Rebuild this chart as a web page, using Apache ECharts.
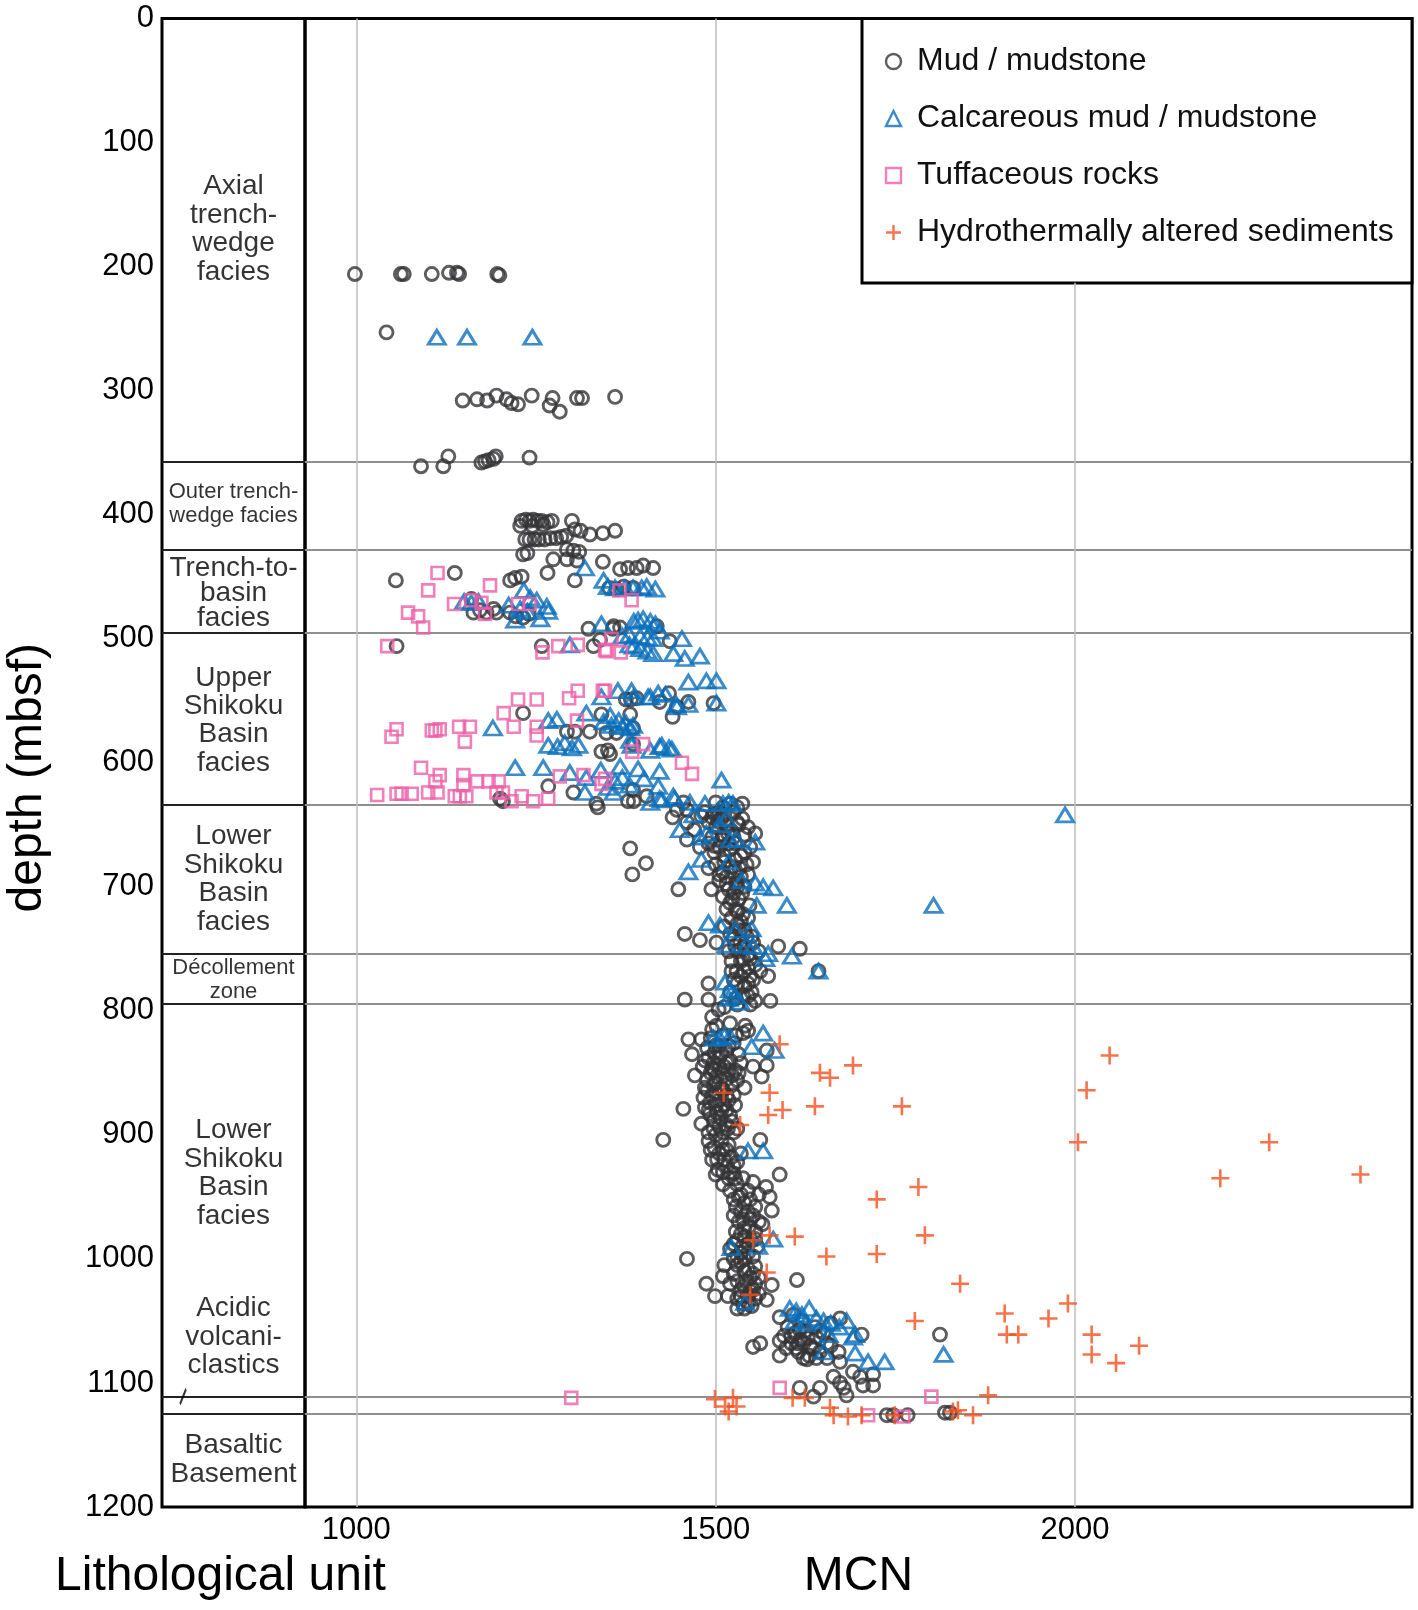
<!DOCTYPE html>
<html><head><meta charset="utf-8">
<script src="https://cdn.jsdelivr.net/npm/echarts@6/dist/echarts.min.js"></script>
<style>html,body{margin:0;padding:0;background:#fff}#c{width:1418px;height:1610px}</style>
</head><body><div id="c"></div>
<script>
// ---------- data ----------
const depthTicks = [0,100,200,300,400,500,600,700,800,900,1000,1100,1200];
const mcnTicks = [1000,1500,2000];
const unitBoundaries = [357,428.5,495,634,754,794,1111,1125];
const unitLabels = ['Axial\ntrench-\nwedge\nfacies','Outer trench-\nwedge facies','Trench-to-\nbasin\nfacies','Upper\nShikoku\nBasin\nfacies','Lower\nShikoku\nBasin\nfacies','Décollement\nzone','Lower\nShikoku\nBasin\nfacies','Acidic\nvolcani-\nclastics','Basaltic\nBasement'];
const unitLabelDepths = [170,391,463,566,694,775,931,1063,1162];
const unitLabelSmall = [false,true,false,false,false,true,false,false,false];
const seriesNames = ['Mud / mudstone','Calcareous mud / mudstone','Tuffaceous rocks','Hydrothermally altered sediments'];

const mud = [
[998,206],[1062,206],[1066,206],[1105,206],[1129,205],[1140,205],[1143,206],[1196,206],[1199,207],
[1042,253],
[1148,308],[1168,307],[1182,308],[1195,304],[1209,307],[1216,310],[1225,311],[1244,304],[1269,312],[1273,306],[1283,317],[1307,306],[1314,306],[1360,305],
[1090,361],[1121,361],[1128,353],[1174,358],[1179,357],[1184,356],[1191,355],[1194,353],[1241,354],
[1230,405],[1236,404],[1241,405],[1246,404],[1252,405],[1258,405],[1266,406],[1272,405],[1300,405],[1228,409],[1245,409],[1260,408],[1304,412],[1312,413],[1325,416],[1343,415],[1360,413],
[1235,420],[1241,420],[1248,420],[1254,420],[1262,420],[1270,419],[1278,419],[1285,418],[1292,417],[1293,428],[1302,429],[1310,430],[1232,432],[1238,431],[1274,436],[1293,436],[1307,437],[1343,438],
[1055,453],[1137,447],[1214,453],[1221,451],[1230,450],[1266,447],[1304,453],[1367,444],[1378,443],[1390,443],[1399,441],[1413,443],[1352,459],[1362,460],[1372,458],[1385,459],
[1160,468],[1163,479],[1172,477],[1181,479],[1191,476],[1195,479],[1214,479],[1222,482],[1232,483],[1240,480],
[1323,492],[1357,492],[1367,491],[1418,490],[1358,490],[1056,506],[1258,506],[1330,506],[1339,501],[1436,502],
[1375,549],[1382,549],[1390,548],[1422,551],[1435,544],[1462,551],[1497,552],[1446,555],[1232,560],[1341,561],[1381,561],[1440,563],
[1293,575],[1304,575],[1325,575],[1348,576],[1362,576],[1385,572],[1353,593],[1341,591],[1350,590],[1385,585],
[1267,619],[1302,624],[1334,633],[1200,629],[1385,622],[1404,627],[1378,631],[1386,631],[1446,638],[1460,638],[1336,636],[1204,631],
[1500,632],[1510,636],[1520,633],[1530,636],[1537,633],[1498,641],[1455,632],
[1440,644],[1460,648],[1470,654],[1480,643],[1490,648],[1500,652],[1508,645],[1515,650],[1522,655],[1530,648],[1537,645],[1545,652],[1555,657],[1495,660],[1510,658],[1525,660],
[1485,640],[1495,644],[1505,640],[1512,642],[1525,640],[1532,650],[1540,658],[1518,665],[1508,662],[1498,667],
[1460,662],[1478,668],[1490,665],[1498,672],[1505,668],[1512,675],[1520,670],[1527,678],[1533,685],[1540,672],[1548,668],[1552,680],[1500,682],[1510,688],[1490,685],[1381,669],[1403,681],[1384,690],
[1525,688],[1535,692],[1515,692],[1545,690],[1528,697],[1518,702],
[1448,702],[1494,702],[1505,695],[1515,698],[1525,705],[1532,710],[1540,700],[1547,715],[1520,713],[1530,720],[1538,722],[1545,725],[1528,718],
[1510,708],[1522,725],[1535,728],[1512,732],[1525,742],[1540,748],[1552,745],[1538,758],[1522,760],
[1457,738],[1478,743],[1501,745],[1534,745],[1540,735],[1520,738],[1530,730],[1587,748],[1617,750],[1550,740],[1560,752],[1545,755],[1530,752],
[1529,768],[1548,772],[1562,768],[1573,772],[1643,768],[1490,778],[1457,791],[1490,791],[1555,792],[1576,792],[1540,780],[1550,785],[1530,795],[1535,760],[1545,765],
[1525,775],[1535,772],[1545,778],[1520,785],[1538,788],[1548,795],[1512,797],
[1503,647],[1517,657],[1527,665],[1535,675],[1543,682],[1512,680],[1522,684],[1505,690],[1530,700],[1537,705],[1523,710],[1515,718],[1533,735],[1543,740],[1527,748],[1518,752],[1548,758],[1555,763],[1540,768],[1530,778],[1522,768],[1552,775],[1545,788],[1528,790],
[1504,799],[1501,812],[1541,812],[1545,816],[1462,823],[1480,823],[1467,835],[1538,818],[1571,832],[1510,820],[1520,810],[1495,805],
[1495,815],[1505,828],[1515,832],[1525,826],[1532,835],[1488,830],[1498,834],
[1493,822],[1500,828],[1508,834],[1518,828],[1528,820],[1485,840],[1495,846],[1505,846],[1515,842],[1523,852],[1532,850],[1488,864],[1497,860],[1510,864],[1518,872],[1527,876],[1483,870],[1490,880],[1498,888],[1508,880],[1517,895],[1525,898],[1502,882],
[1471,852],[1501,853],[1552,845],[1571,844],[1564,853],[1490,838],[1497,842],[1505,838],[1512,845],[1520,840],[1527,848],[1535,842],[1493,850],[1500,858],[1508,862],[1515,855],[1522,860],[1530,856],[1540,862],[1485,862],[1495,868],[1505,872],[1515,868],
[1482,845],[1488,856],[1498,848],[1510,850],[1518,848],[1525,868],[1492,874],[1500,866],[1512,876],[1520,884],[1505,893],[1490,898],[1515,892],
[1455,879],[1480,891],[1485,878],[1492,883],[1500,876],[1507,886],[1515,880],[1522,889],[1530,895],[1497,895],[1510,898],
[1427,904],[1562,904],[1490,905],[1498,910],[1505,915],[1512,920],[1518,908],[1525,925],[1503,928],[1495,920],[1520,930],[1535,915],
[1500,900],[1508,905],[1515,912],[1522,918],[1530,922],[1510,930],[1518,935],[1500,932],
[1493,912],[1502,920],[1510,912],[1516,925],[1527,935],[1510,940],[1520,945],[1532,950],[1525,952],[1538,968],[1546,974],[1555,984],[1535,980],[1525,988],[1545,988],[1552,998],[1535,995],[1525,1000],
[1525,931],[1589,932],[1530,940],[1538,935],[1545,945],[1552,938],[1560,948],[1570,942],[1575,950],[1540,955],[1555,958],
[1535,948],[1548,952],[1528,958],[1535,962],[1545,962],[1552,965],[1560,970],[1528,978],[1540,982],[1550,985],[1558,990],[1530,998],[1540,1000],
[1578,961],[1525,965],[1532,970],[1540,975],[1548,968],[1555,978],[1530,985],[1537,990],[1545,995],[1565,972],[1520,992],[1460,1000],
[1510,1014],[1487,1020],[1499,1030],[1578,1021],[1613,1017],[1571,1033],[1530,1005],[1540,1010],[1548,1015],[1555,1020],[1535,1025],[1545,1030],[1560,1028],[1550,1038],[1540,1040],[1525,1012],
[1535,1002],[1545,1008],[1552,1012],[1530,1018],[1540,1022],[1548,1026],[1530,1032],[1538,1036],[1555,1032],
[1542,1018],[1552,1025],[1535,1030],[1545,1036],[1530,1040],[1555,1006],[1520,1020],[1517,1030],[1512,1005],[1560,1015],
[1589,1047],[1673,1048],[1552,1071],[1562,1068],[1589,1066],[1589,1078],[1627,1081],[1671,1075],[1673,1083],[1703,1061],[1600,1055],[1610,1060],[1618,1065],[1625,1058],[1632,1070],[1640,1063],[1615,1075],[1605,1068],[1645,1075],[1655,1068],[1660,1052],[1620,1050],
[1605,1062],[1612,1072],[1622,1068],[1630,1078],[1638,1055],[1650,1060],[1598,1072],[1640,1080],
[1608,1045],[1617,1057],[1628,1064],[1635,1072],[1645,1058],[1615,1068],[1595,1062],[1622,1080],[1655,1080],[1660,1070],
[1664,1095],[1673,1100],[1678,1104],[1682,1110],[1691,1091],[1701,1095],[1705,1102],[1719,1102],[1719,1093],[1617,1104],[1636,1111],[1645,1104],[1812,1061],
[1738,1126],[1747,1126],[1767,1126],[1819,1124],[1826,1124]
];

const calcareous = [
[1112,257],[1154,257],[1245,257],
[1318,443],[1344,453],[1360,459],[1374,459],[1385,459],[1397,459],[1404,458],[1416,460],[1350,458],
[1150,470],[1160,471],[1170,470],[1212,473],[1221,485],[1233,461],[1242,467],[1251,469],[1256,484],[1265,474],[1267,478],[1228,476],[1238,478],
[1341,488],[1386,486],[1392,485],[1399,484],[1409,486],[1416,488],[1422,494],[1370,498],[1380,497],[1395,498],[1405,499],[1413,500],
[1297,505],[1386,506],[1395,508],[1405,510],[1413,512],[1453,500],[1441,512],[1457,516],[1478,514],[1380,505],
[1462,535],[1487,534],[1501,534],[1445,553],[1462,553],[1501,552],[1420,544],[1430,545],[1406,547],[1364,542],[1383,542],[1341,547],[1386,547],[1409,547],[1446,555],
[1353,562],[1365,566],[1375,568],[1385,570],[1267,566],[1279,565],[1320,560],[1344,567],[1355,570],[1370,571],[1381,572],[1190,572],
[1383,586],[1409,590],[1425,586],[1439,589],[1267,586],[1280,587],[1290,584],[1300,588],[1309,586],[1381,582],[1422,587],[1435,588],
[1367,603],[1392,605],[1422,607],[1221,604],[1260,604],[1297,608],[1320,612],[1340,606],[1360,615],[1380,618],[1400,613],[1420,619],[1508,614],[1350,620],[1370,612],
[1318,624],[1358,624],[1422,629],[1443,629],[1425,630],[1464,632],[1485,633],[1510,633],[1518,632],[1524,633],[1409,632],[1441,627],
[1450,654],[1469,642],[1478,660],[1487,657],[1520,662],[1529,662],[1555,664],[1505,650],[1515,645],
[1462,688],[1480,678],[1518,680],[1536,695],[1555,697],[1566,700],[1580,701],[1557,715],[1599,715],[1803,715],
[1490,729],[1506,731],[1527,735],[1550,734],[1515,747],[1543,747],[1552,748],[1573,754],[1569,758],[1606,756],[1986,642],
[1643,768],[1513,777],[1520,783],[1527,788],[1534,793],[1518,790],
[1497,822],[1520,821],[1566,818],[1550,829],[1582,832],[1505,822],[1512,820],
[1545,913],[1566,913],
[1580,984],[1559,990],[1522,991],
[1541,1035],
[1603,1040],[1612,1042],[1620,1045],[1630,1040],[1640,1048],[1650,1050],[1660,1052],[1672,1055],[1682,1050],[1694,1061],[1657,1061],[1691,1063],[1650,1075],[1694,1076],[1712,1083],[1735,1083],[1817,1077],[1610,1050],[1625,1052]
];

const tuffaceous = [
[1113,447],[1100,461],[1186,457],[1136,472],[1160,469],[1174,471],[1179,480],[1072,479],[1086,482],[1093,491],[1225,472],[1241,472],[1043,506],[1366,461],[1383,469],
[1259,511],[1281,506],[1308,505],[1355,500],[1348,510],[1368,511],[1346,509],
[1346,542],[1225,549],[1251,549],[1296,548],[1308,542],[1343,542],
[1205,560],[1219,571],[1251,571],[1251,578],[1307,566],[1056,573],[1049,579],[1105,574],[1110,574],[1116,573],[1143,571],[1158,571],[1151,583],
[1399,585],[1384,591],
[1453,600],[1467,609],[1346,613],
[1090,604],[1116,610],[1110,615],[1149,610],[1149,618],[1168,615],[1184,615],[1198,615],[1283,611],[1316,610],[1341,617],
[1029,626],[1056,625],[1063,625],[1077,625],[1100,624],[1113,624],[1137,627],[1144,627],[1153,627],[1195,624],[1204,624],[1216,631],[1230,627],[1246,631],[1267,629],
[1299,1112],[1589,1104],[1712,1126],[1761,1127],[1800,1111]
];

const hydrothermal = [
[1589,827],[1645,850],[1659,854],[1691,844],[1511,866],[1575,866],[1534,892],[1573,884],[1593,880],[1638,877],[1759,877],
[1782,942],[1724,952],[1791,981],[1724,996],[1610,982],[1654,998],[1840,1020],[1777,1050],[1902,1044],[1963,1048],[1905,1061],[1921,1061],
[2048,836],[2016,864],[2004,906],[2270,906],[2202,935],[2397,932],[1990,1036],[2023,1061],[2023,1077],[2057,1084],[2089,1070],
[1552,985],[1575,981],[1571,1011],[1548,1029],
[1879,1110],[1830,1123],[1837,1122],[1858,1126],
[1499,1113],[1524,1112],[1513,1119],[1529,1119],[1518,1123],[1607,1112],[1624,1112],[1659,1120],[1664,1126],[1684,1127],[1703,1126],[1749,1126]
];

// ---------- chart ----------
const FONT = "'Liberation Sans', Arial, Helvetica, sans-serif";
const chart = echarts.init(document.getElementById('c'), null, {renderer: 'canvas'});
const legendBottomDepth = 213;
const plain = v => String(v);

const labelData = unitLabels.map((t, i) => ({
  value: [0.5, unitLabelDepths[i]],
  name: t,
  label: unitLabelSmall[i] ? {fontSize: 22, lineHeight: 24} : {fontSize: 28, lineHeight: (i === 2 ? 25 : 28.4)}
}));

const option = {
  animation: false,
  backgroundColor: '#fff',
  textStyle: {fontFamily: FONT},
  grid: [
    {left: 162, top: 18.5, width: 143, height: 1488.5, show: true, borderColor: '#000', borderWidth: 3, backgroundColor: 'transparent'},
    {left: 305, top: 18.5, width: 1107, height: 1488.5, show: true, borderColor: '#000', borderWidth: 3, backgroundColor: 'transparent'},
    {left: 862, top: 18.5, width: 550, height: 264.5, show: true, borderColor: '#000', borderWidth: 3, backgroundColor: '#fff'}
  ],
  legend: {
    data: seriesNames,
    orient: 'vertical',
    left: 883.5, top: 45.5,
    padding: 0,
    itemWidth: 15, itemHeight: 15, itemGap: 25,
    selectedMode: false,
    itemStyle: {borderWidth: 2.4},
    textStyle: {fontSize: 32, lineHeight: 31, color: '#111', fontFamily: FONT, padding: [0, 0, 0, 11]}
  },
  xAxis: [
    {gridIndex: 0, type: 'value', min: 0, max: 1,
     axisLine: {show: false}, axisTick: {show: false}, axisLabel: {show: false}, splitLine: {show: false},
     name: 'Lithological unit', nameLocation: 'middle', nameGap: 46,
     nameTextStyle: {fontSize: 48, color: '#000', fontFamily: FONT, padding: [0, 26, 0, 0]}},
    {gridIndex: 1, type: 'value', min: 928.6, max: 2468.7,
     axisLine: {show: false}, axisTick: {show: false}, splitLine: {show: false},
     axisLabel: {customValues: mcnTicks, formatter: plain, fontSize: 31, color: '#000', margin: 8, fontFamily: FONT},
     name: 'MCN', nameLocation: 'middle', nameGap: 46,
     nameTextStyle: {fontSize: 48, color: '#000', fontFamily: FONT}},
    {gridIndex: 2, type: 'value', show: false, min: 0, max: 1}
  ],
  yAxis: [
    {gridIndex: 0, type: 'value', inverse: true, min: depthTicks[0], max: depthTicks[depthTicks.length - 1], interval: 100,
     axisLine: {show: false}, axisTick: {show: false}, splitLine: {show: false},
     axisLabel: {formatter: plain, fontSize: 31, color: '#000', margin: 8, fontFamily: FONT, showMinLabel: true, showMaxLabel: true},
     name: 'depth (mbsf)', nameLocation: 'middle', nameRotate: 90, nameGap: 110,
     nameTextStyle: {fontSize: 48, color: '#000', fontFamily: FONT, padding: [0, 30, 0, 0]}},
    {gridIndex: 1, type: 'value', inverse: true, min: 0, max: 1200, show: false},
    {gridIndex: 2, type: 'value', show: false, min: 0, max: 1}
  ],
  series: [
    {
      type: 'scatter', xAxisIndex: 0, yAxisIndex: 0, silent: true, z: 3,
      symbolSize: 1, itemStyle: {color: 'rgba(0,0,0,0)'},
      label: {show: true, position: 'inside', formatter: '{b}', color: '#000', fontFamily: FONT, align: 'center', verticalAlign: 'middle'},
      data: labelData,
      markLine: {silent: true, symbol: 'none', z: 1, label: {show: false},
        lineStyle: {color: '#222', width: 2, type: 'solid'},
        data: unitBoundaries.map(d => ({yAxis: d}))}
    },
    {
      type: 'scatter', xAxisIndex: 0, yAxisIndex: 0, silent: true, z: 4,
      symbol: 'path://M0,15L5,0', symbolSize: [6, 15],
      itemStyle: {color: 'none', borderColor: '#000', borderWidth: 2.5},
      data: [[0.147, unitBoundaries[6]]]
    },
    {
      type: 'scatter', xAxisIndex: 1, yAxisIndex: 1, silent: true, z: 1, data: [],
      markLine: {silent: true, symbol: 'none', z: 1, label: {show: false}, animation: false,
        lineStyle: {type: 'solid'},
        data: [
          ...unitBoundaries.map(d => ({yAxis: d, lineStyle: {color: '#8f8f8f', width: 2, type: 'solid'}})),
          {xAxis: mcnTicks[0], lineStyle: {color: '#bdbdbd', width: 1.5, type: 'solid'}},
          {xAxis: mcnTicks[1], lineStyle: {color: '#bdbdbd', width: 1.5, type: 'solid'}},
          [{coord: [mcnTicks[2], legendBottomDepth], lineStyle: {color: '#bdbdbd', width: 1.5, type: 'solid'}}, {coord: [mcnTicks[2], 1200]}]
        ]}
    },
    {
      name: seriesNames[0], type: 'scatter', xAxisIndex: 1, yAxisIndex: 1, silent: true, z: 5,
      symbol: 'circle', symbolSize: 13,
      itemStyle: {color: 'none', borderColor: '#353537', borderWidth: 2.9},
      data: mud
    },
    {
      name: seriesNames[1], type: 'scatter', xAxisIndex: 1, yAxisIndex: 1, silent: true, z: 6,
      symbol: 'triangle', symbolSize: [17, 14],
      itemStyle: {color: 'none', borderColor: '#0a6fbc', borderWidth: 2.9},
      data: calcareous
    },
    {
      name: seriesNames[2], type: 'scatter', xAxisIndex: 1, yAxisIndex: 1, silent: true, z: 7,
      symbol: 'rect', symbolSize: 12,
      itemStyle: {color: 'none', borderColor: '#ee5fa6', borderWidth: 2.6},
      data: tuffaceous
    },
    {
      name: seriesNames[3], type: 'scatter', xAxisIndex: 1, yAxisIndex: 1, silent: true, z: 8,
      symbol: 'path://M0,8L16,8M8,0L8,16', symbolSize: 18,
      itemStyle: {color: 'none', borderColor: '#f4511e', borderWidth: 2.6},
      data: hydrothermal
    }
  ]
};
chart.setOption(option);
</script>
</body></html>
